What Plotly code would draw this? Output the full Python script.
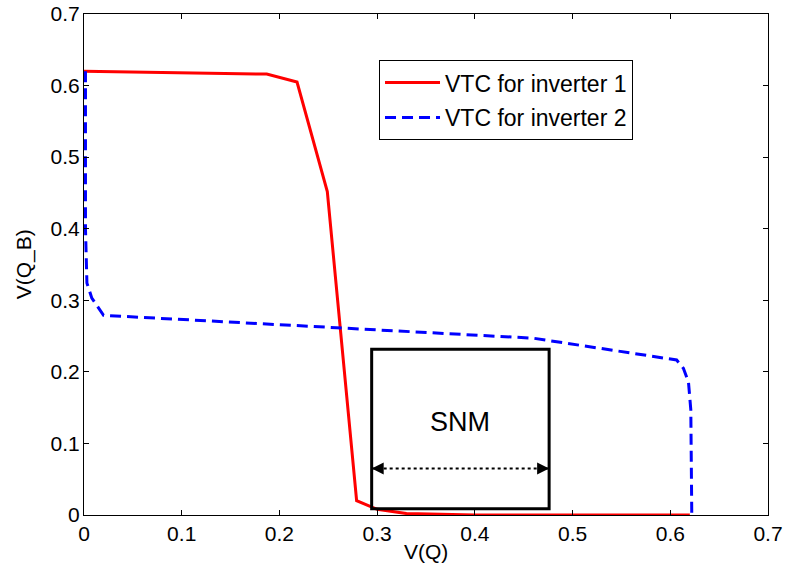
import plotly.graph_objects as go

# Voltage transfer characteristics of the two cross-coupled inverters
inv1_vq = [0.0, 0.156, 0.187, 0.218, 0.249, 0.279, 0.300, 0.330, 0.400, 0.620]
inv1_vqb = [0.620, 0.6175, 0.616, 0.605, 0.452, 0.020, 0.008, 0.002, 0.0, 0.0]

inv2_vq = [0.0015, 0.0015, 0.003, 0.008, 0.020, 0.460, 0.6065, 0.6134, 0.6186, 0.621, 0.622]
inv2_vqb = [0.620, 0.400, 0.324, 0.303, 0.279, 0.247, 0.2166, 0.205, 0.186, 0.147, 0.0]

# Static noise margin square: corners in (V(Q), V(Q_B))
snm_x = [0.2944, 0.476]
snm_y = [0.0089, 0.2315]
snm_arrow_y = 0.065

tick_vals = [0, 0.1, 0.2, 0.3, 0.4, 0.5, 0.6, 0.7]
tick_text = ["0", "0.1", "0.2", "0.3", "0.4", "0.5", "0.6", "0.7"]

FONT = "Liberation Sans, Arial, sans-serif"

fig = go.Figure()
fig.add_trace(go.Scatter(
    x=inv1_vq, y=inv1_vqb, mode="lines", name="VTC for inverter 1",
    legendgroup="inv1",
    line=dict(color="#ff0000", width=3),
))
fig.add_trace(go.Scatter(
    x=inv2_vq, y=inv2_vqb, mode="lines", name="VTC for inverter 2",
    legendgroup="inv2",
    line=dict(color="#0000ff", width=3, dash="11px,6px"),
))

# SNM box
fig.add_shape(type="rect", xref="x", yref="y",
              x0=snm_x[0], x1=snm_x[1], y0=snm_y[0], y1=snm_y[1],
              line=dict(color="black", width=3))
# dotted double arrow across the box
fig.add_shape(type="line", xref="x", yref="y",
              x0=snm_x[0], x1=snm_x[1], y0=snm_arrow_y, y1=snm_arrow_y,
              line=dict(color="black", width=2, dash="dot"))
for tip, tail in [(snm_x[0], snm_x[0] + 0.012), (snm_x[1], snm_x[1] - 0.012)]:
    fig.add_annotation(x=tip, y=snm_arrow_y, ax=tail, ay=snm_arrow_y,
                       xref="x", yref="y", axref="x", ayref="y",
                       text="", showarrow=True, arrowhead=2,
                       arrowsize=1.6, arrowwidth=1.5, arrowcolor="black")
fig.add_annotation(x=(snm_x[0] + snm_x[1]) / 2, y=0.130, xref="x", yref="y",
                   text="SNM", showarrow=False,
                   font=dict(family=FONT, size=27, color="black"))

# axis titles
fig.add_annotation(x=0.5, y=-0.072, xref="paper", yref="paper",
                   text="V(Q)", showarrow=False, yanchor="middle",
                   font=dict(family=FONT, size=21, color="black"))
fig.add_annotation(x=-0.088, y=0.5, xref="paper", yref="paper",
                   text="V(Q_B)", showarrow=False, textangle=-90,
                   xanchor="center", yanchor="middle",
                   font=dict(family=FONT, size=21, color="black"))

axis_common = dict(
    range=[0, 0.7], tickmode="array", tickvals=tick_vals, ticktext=tick_text,
    ticks="inside", ticklen=5, tickwidth=1, tickcolor="black",
    showline=True, linecolor="black", linewidth=1, mirror="ticks",
    showgrid=False, zeroline=False, automargin=False,
    tickfont=dict(family=FONT, size=21, color="black"),
)

fig.update_layout(
    width=789, height=574,
    margin=dict(l=84, r=21, t=14, b=59),
    paper_bgcolor="white", plot_bgcolor="white",
    xaxis=dict(axis_common),
    yaxis=dict(axis_common, ticklabelstandoff=-1),
    legend=dict(x=0.4313, y=0.908, xanchor="left", yanchor="top",
                bgcolor="white", bordercolor="black", borderwidth=1,
                font=dict(family=FONT, size=23, color="black"),
                itemwidth=55, tracegroupgap=2),
    showlegend=True,
)

fig.write_html("out.html")
